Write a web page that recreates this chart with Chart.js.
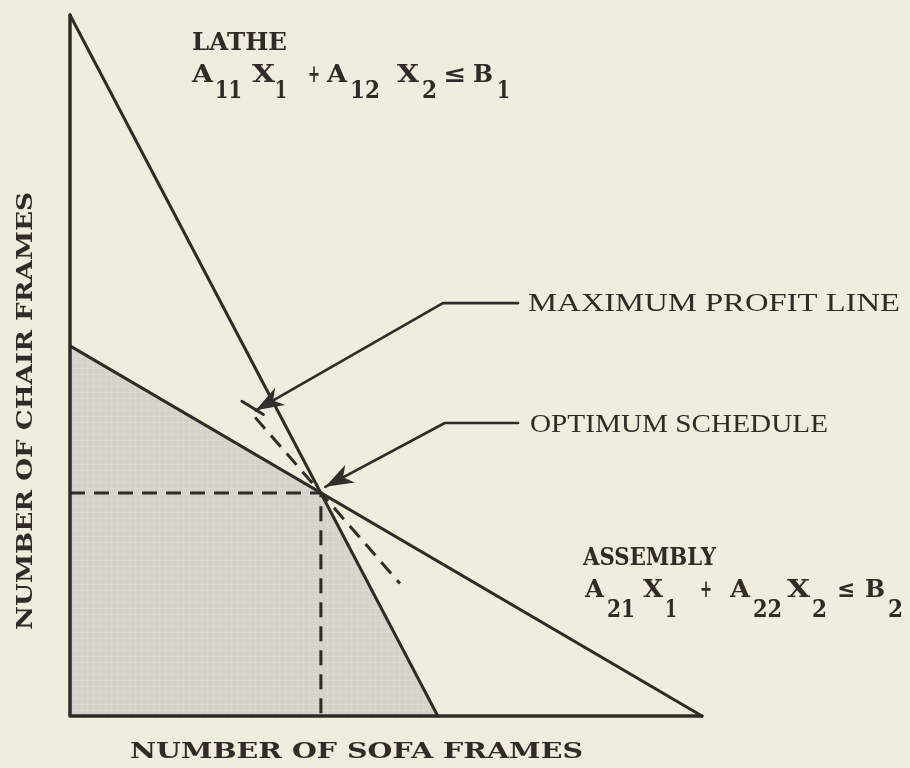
<!DOCTYPE html>
<html>
<head>
<meta charset="utf-8">
<script src="https://cdn.jsdelivr.net/npm/chart.js@4.4.0/dist/chart.umd.min.js"></script>
<style>
  html, body { margin: 0; padding: 0; background: #f0ecde; }
  canvas { display: block; }
</style>
</head>
<body>
<canvas id="lp" width="910" height="768"></canvas>
<script>
// values in chart units (sofa frames on x, chair frames on y)
var axisPts     = [{x: 0, y: 100}, {x: 0, y: 0}, {x: 100, y: 0}];
var lathePts    = [{x: 0, y: 100}, {x: 58.2, y: 0}];
var assemblyPts = [{x: 0, y: 52.8}, {x: 100, y: 0}];
var optimum     = {x: 39.7, y: 31.8};
var profitPts   = [{x: 29.3, y: 42.6}, {x: 52.2, y: 18.9}];
var profitCap   = [{x: 27.2, y: 44.9}, {x: 30.6, y: 43.0}];
var arrowProfit = [{x: 70.9, y: 58.9}, {x: 59.0, y: 58.9}, {x: 29.4, y: 43.6}];
var arrowOptim  = [{x: 70.9, y: 41.8}, {x: 59.3, y: 41.8}, {x: 40.4, y: 32.7}];

var feasible = [{x: 0, y: assemblyPts[0].y}, optimum, lathePts[1]];
var projection = [{x: 0, y: optimum.y}, optimum, {x: optimum.x, y: 0}];

var ink = '#322a28';
var paper = '#f0ecde';

// shaded texture for the feasible region
var pat = document.createElement('canvas');
pat.width = 6; pat.height = 6;
var pc = pat.getContext('2d');
pc.fillStyle = '#d4d2c9';
pc.fillRect(0, 0, 6, 6);
pc.fillStyle = '#dbd9d0';
pc.fillRect(0, 2, 6, 1);
pc.fillRect(3, 0, 1, 6);
var shade = pc.createPattern(pat, 'repeat');

function line(data, extra) {
    var d = {
        data: data, showLine: true, fill: false,
        borderColor: ink, borderWidth: 3,
        borderCapStyle: 'round', borderJoinStyle: 'round',
        pointRadius: 0, clip: false, order: 1
    };
    for (var k in extra) d[k] = extra[k];
    return d;
}

// fit text to a width
function fitText(ctx, str, x, y, w, font) {
    ctx.save();
    ctx.font = font;
    var m = ctx.measureText(str).width;
    ctx.translate(x, y);
    ctx.scale(w / m, 1);
    ctx.fillText(str, 0, 0);
    ctx.restore();
}

var bold = 'bold 24px "DejaVu Serif"';
var plain = '25px "Liberation Serif"';

var lathePieces = [
    ['A', 192, 21, 0], ['11', 215, 27, 1], ['X', 252, 23, 0], ['1', 275, 12, 1],
    ['+', 308, 12, 0], ['A', 327, 20, 0], ['12', 350, 30, 1], ['X', 397, 22, 0],
    ['2', 422, 15, 1], ['\u2264', 443, 23, 0], ['B', 473, 20, 0], ['1', 497, 13, 1]
];
var assemblyPieces = [
    ['A', 585, 19, 0], ['21', 607, 28, 1], ['X', 643, 20, 0], ['1', 665, 12, 1],
    ['+', 700, 12, 0], ['A', 730, 20, 0], ['22', 753, 29, 1], ['X', 787, 23, 0],
    ['2', 812, 15, 1], ['\u2264', 837, 18, 0], ['B', 865, 20, 0], ['2', 888, 15, 1]
];

var labels = {
    id: 'labels',
    beforeDraw: function(chart) {
        var c = chart.ctx;
        c.save();
        c.fillStyle = paper;
        c.fillRect(0, 0, chart.width, chart.height);
        c.restore();
    },
    afterDraw: function(chart) {
        var c = chart.ctx;
        c.save();
        c.fillStyle = ink;
        c.textBaseline = 'alphabetic';
        fitText(c, 'LATHE', 192, 50, 95, bold);
        lathePieces.forEach(function(p) {
            fitText(c, p[0], p[1], p[3] ? 98 : 82, p[2], bold);
        });
        fitText(c, 'ASSEMBLY', 583, 565, 133, bold);
        assemblyPieces.forEach(function(p) {
            fitText(c, p[0], p[1], p[3] ? 617 : 597, p[2], bold);
        });
        fitText(c, 'MAXIMUM PROFIT LINE', 528, 311, 372, plain);
        fitText(c, 'OPTIMUM SCHEDULE', 530, 432, 298, plain);
        fitText(c, 'NUMBER OF SOFA FRAMES', 130, 758, 453, 'bold 22px "DejaVu Serif"');
        c.save();
        c.translate(32, 630);
        c.rotate(-Math.PI / 2);
        fitText(c, 'NUMBER OF CHAIR FRAMES', 0, 0, 438, 'bold 22px "DejaVu Serif"');
        c.restore();

        // arrow heads at the end of the callout leaders
        chart.data.datasets.forEach(function(ds, i) {
            if (!ds.arrow) return;
            var pts = chart.getDatasetMeta(i).data;
            var a = pts[pts.length - 2], b = pts[pts.length - 1];
            var ang = Math.atan2(b.y - a.y, b.x - a.x);
            c.save();
            c.translate(b.x, b.y);
            c.rotate(ang);
            c.beginPath();
            c.moveTo(0, 0);
            c.lineTo(-28, -10);
            c.lineTo(-20, 0);
            c.lineTo(-28, 10);
            c.closePath();
            c.fillStyle = '#332d2b';
            c.fill();
            c.restore();
        });
        c.restore();
    }
};

new Chart(document.getElementById('lp'), {
    type: 'scatter',
    data: {
        datasets: [
            { data: feasible, showLine: true, fill: 'origin', backgroundColor: shade,
              borderWidth: 0, borderColor: 'rgba(0,0,0,0)', pointRadius: 0,
              clip: false, order: 10 },
            line(projection, { borderDash: [15, 9], borderCapStyle: 'butt' }),
            line(profitPts, { borderDash: [15, 9], borderCapStyle: 'butt' }),
            line(profitCap, {}),
            line(lathePts, {}),
            line(assemblyPts, {}),
            line(axisPts, { borderWidth: 3.5 }),
            line(arrowProfit, { arrow: true, borderWidth: 2.6 }),
            line(arrowOptim, { arrow: true, borderWidth: 2.6 })
        ]
    },
    options: {
        responsive: false,
        animation: false,
        layout: { padding: { left: 70, right: 208, top: 15, bottom: 52 } },
        plugins: { legend: { display: false }, tooltip: { enabled: false } },
        scales: {
            x: { type: 'linear', min: 0, max: 100, display: false },
            y: { type: 'linear', min: 0, max: 100, display: false }
        }
    },
    plugins: [labels]
});
</script>
</body>
</html>
